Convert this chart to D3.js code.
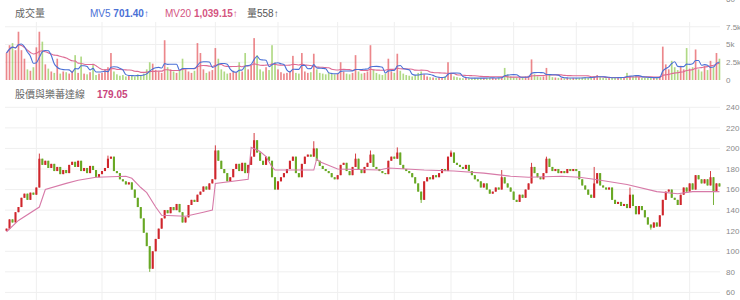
<!DOCTYPE html>
<html>
<head>
<meta charset="utf-8">
<script src="https://cdn.jsdelivr.net/npm/d3@7"></script>
<style>
  body { margin: 0; background: #fff; }
  svg { display: block; font-family: "Liberation Sans", "Noto Sans CJK TC", sans-serif; }
</style>
</head>
<body>
<svg id="chart" width="740" height="300"></svg>
<script>
// daily closes (open = previous close)
const firstOpen = 120;
const closes = [
  122,131,128,138,143,152,156,150,157,155,
  162,190,184,188,181,185,178,182,175,179,
  176,184,187,182,188,178,181,176,183,179,
  172,175,178,181,190,192,178,176,170,168,
  165,167,160,152,143,132,118,105,83,100,
  112,122,132,140,137,143,140,146,138,128,
  133,145,150,148,155,158,163,160,166,170,
  198,188,180,176,168,172,180,185,178,186,
  176,184,192,208,196,188,184,192,188,172,
  160,168,172,176,180,188,192,176,172,185,
  192,194,192,200,188,183,180,178,176,172,
  170,174,184,186,178,174,182,190,180,176,
  182,186,194,182,180,178,176,175,188,192,
  190,196,184,180,178,176,172,166,158,150,
  168,172,170,174,172,176,180,178,192,196,
  186,184,182,180,184,178,174,170,168,162,
  166,160,156,158,162,160,172,166,162,158,
  150,148,155,152,160,166,182,176,172,170,
  176,190,182,178,180,176,178,176,180,178,
  180,178,170,164,160,155,152,166,176,164,
  162,160,162,150,146,148,144,146,142,155,
  144,136,144,140,133,126,123,128,124,135,
  150,158,160,152,150,145,155,162,158,166,
  160,174,170,166,170,164,172,158,166,163
];

// long wicks that stick out of the bodies: [index, price]
const wickHighs = [[11,195],[34,193],[70,203],[83,215],[103,207],[117,195],[122,198],
  [131,201],[149,198],[166,179],[176,186],[181,192],[197,182],[209,162],[236,178]];
const wickLows = [[48,80],[139,147],[216,121],[237,145]];

// daily volume
const volumes = [
  3800,4900,5200,4200,6800,4200,3000,1500,1300,1800,
  4600,6800,5400,2200,1600,1200,1000,3000,900,1200,
  1100,900,1300,3500,1000,3300,900,800,1100,2100,
  700,900,1000,1500,1800,3800,1200,800,600,700,
  500,600,700,500,800,600,900,1500,2500,2300,
  1400,1200,1000,5600,1800,1500,1200,1000,1400,3000,
  1500,1200,1000,1300,5200,3800,1500,1000,1200,1400,
  4500,3000,1500,1200,900,1000,1300,1100,2500,1200,
  3800,1500,2000,5900,3500,1500,1200,1800,1400,4900,
  2500,1500,1100,900,1000,1200,3400,1000,900,3800,
  1200,1000,1100,3700,1500,1000,900,800,1000,900,
  800,900,2500,1200,900,800,1000,3500,1200,900,
  1000,1200,4900,1500,1000,800,700,900,3000,1200,
  1000,3700,1300,900,700,600,500,700,1000,1200,
  800,500,400,350,300,400,350,500,2500,1000,
  500,400,300,250,300,250,200,300,250,300,
  250,300,350,300,250,300,400,1700,800,500,
  400,350,300,400,500,600,2900,800,500,400,
  500,1700,700,400,350,300,300,250,300,250,
  300,250,300,350,400,300,400,500,700,400,
  300,250,300,350,400,350,300,400,1000,600,
  500,600,400,300,350,300,400,350,300,500,
  4700,2200,1500,2700,1800,1400,2000,1500,4500,1600,
  1800,4300,1500,1200,2000,1400,2700,1800,3800,3000
];

// pink trend line: [index, price]
const trendLine = [[0,119],[4,130],[11,143],[13,160],[20,166],[24,169],[30,172],[40,173],
  [42,171],[45,162],[47,157],[50,143],[52,135],[60,134],[66,138],[69,140],[70,166],
  [81,170],[82,201],[85,197],[87,192],[89,182],[90,179],[103,179],[104,190],[105,187],
  [111,180],[125,179],[128,181],[134,180],[140,179],[150,178],[160,176],[169,173],
  [175,172],[186,173],[192,172],[197,170],[208,165],[218,158],[225,156],[230,158],[239,158]];

// month boundaries (candle index) for vertical grid
const monthStarts = [10, 32, 50, 70, 91, 111, 130, 149, 170, 191, 210, 229];

const priceTicks = [60, 80, 100, 120, 140, 160, 180, 200, 220, 240];
const volumeTicks = [0, 2500, 5000, 7500];
const volumeTickLabels = ['0', '2.5k', '5k', '7.5k'];

const UP = '#cf262c', DOWN = '#68a824';
const GRID = '#efefef';

const svg = d3.select('#chart');
const N = closes.length;

const candles = closes.map((c, i) => {
  const o = i ? closes[i - 1] : firstOpen;
  return { i, o, c, h: Math.max(o, c), l: Math.min(o, c), v: volumes[i] };
});
wickHighs.forEach(([i, p]) => { candles[i].h = Math.max(candles[i].h, p); });
wickLows.forEach(([i, p]) => { candles[i].l = Math.min(candles[i].l, p); });

const x = d3.scaleBand().domain(d3.range(N)).range([5.5, 720.5]).paddingInner(0.3);
const bw = x.bandwidth();
const cx = i => x(i) + bw / 2;

const yPrice = d3.scaleLinear().domain([60, 240]).range([292.4, 107.3]);
const yVol = d3.scaleLinear().domain([0, 10000]).range([80, 9]);

// ---- grid ----
const grid = svg.append('g');
grid.selectAll('line.ph').data(priceTicks).enter().append('line')
  .attr('x1', 5).attr('x2', 720)
  .attr('y1', d => yPrice(d)).attr('y2', d => yPrice(d))
  .attr('stroke', GRID);
grid.selectAll('line.vh').data(volumeTicks.slice(1)).enter().append('line')
  .attr('x1', 5).attr('x2', 720)
  .attr('y1', d => yVol(d)).attr('y2', d => yVol(d))
  .attr('stroke', GRID);
grid.selectAll('line.pv').data(monthStarts).enter().append('line')
  .attr('x1', d => cx(d)).attr('x2', d => cx(d))
  .attr('y1', yPrice(240)).attr('y2', 300)
  .attr('stroke', GRID);
grid.selectAll('line.vv').data(monthStarts).enter().append('line')
  .attr('x1', d => cx(d)).attr('x2', d => cx(d))
  .attr('y1', 22).attr('y2', yVol(0))
  .attr('stroke', GRID);

// ---- axis labels on the right ----
const axisText = svg.append('g')
  .attr('font-size', 8).attr('fill', '#8a8a8a');
axisText.selectAll('text.p').data(priceTicks).enter().append('text')
  .attr('x', 726).attr('y', d => yPrice(d)).attr('dy', '0.35em')
  .text(d => d);
axisText.selectAll('text.v').data(volumeTicks).enter().append('text')
  .attr('x', 726).attr('y', d => yVol(d)).attr('dy', '0.35em')
  .text((d, k) => volumeTickLabels[k]);
axisText.append('text').attr('x', 726).attr('y', 0).attr('dy', '0.3em').text('60');

// ---- volume bars ----
const vw = bw * 0.8;
svg.append('g').selectAll('rect').data(candles).enter().append('rect')
  .attr('x', d => cx(d.i) - vw / 2)
  .attr('width', vw)
  .attr('y', d => yVol(d.v))
  .attr('height', d => yVol(0) - yVol(d.v))
  .attr('fill', d => d.c >= d.o ? '#e2474d' : '#86c443')
  .attr('opacity', 0.65);

// moving averages of volume
const movingAvg = (n) => volumes.map((v, i) => d3.mean(volumes.slice(Math.max(0, i - n + 1), i + 1)));
const mv5 = movingAvg(5);
const mv20 = movingAvg(20);
const volLine = d3.line().x((d, i) => cx(i)).y(d => yVol(d)).curve(d3.curveMonotoneX);
svg.append('path').datum(mv20).attr('d', volLine)
  .attr('fill', 'none').attr('stroke', '#de6a93').attr('stroke-width', 1.1);
svg.append('path').datum(mv5).attr('d', volLine)
  .attr('fill', 'none').attr('stroke', '#4a70d6').attr('stroke-width', 1.1);

// ---- candles ----
const cg = svg.append('g');
cg.selectAll('line').data(candles).enter().append('line')
  .attr('x1', d => cx(d.i)).attr('x2', d => cx(d.i))
  .attr('y1', d => yPrice(d.h)).attr('y2', d => yPrice(d.l))
  .attr('stroke', d => d.c >= d.o ? UP : DOWN)
  .attr('stroke-width', 0.9);
cg.selectAll('rect').data(candles).enter().append('rect')
  .attr('x', d => x(d.i))
  .attr('width', bw)
  .attr('y', d => yPrice(Math.max(d.o, d.c)))
  .attr('height', d => Math.max(1, Math.abs(yPrice(d.o) - yPrice(d.c))))
  .attr('fill', d => d.c >= d.o ? UP : DOWN);

// ---- trend line ----
svg.append('path').datum(trendLine)
  .attr('d', d3.line().x(d => cx(d[0])).y(d => yPrice(d[1])))
  .attr('fill', 'none').attr('stroke', '#d77aa8').attr('stroke-width', 1.1);

// ---- headers ----
const head = svg.append('g').attr('font-size', 10);
head.append('text').attr('x', 15).attr('y', 17).attr('fill', '#666').text('成交量');
const mv5t = head.append('text').attr('x', 90).attr('y', 17).attr('fill', '#4a70d6');
mv5t.append('tspan').text('MV5 ');
mv5t.append('tspan').attr('font-weight', 'bold').text('701.40');
mv5t.append('tspan').text('↑');
const mv20t = head.append('text').attr('x', 165).attr('y', 17).attr('fill', '#d4557f');
mv20t.append('tspan').text('MV20 ');
mv20t.append('tspan').attr('font-weight', 'bold').text('1,039.15');
mv20t.append('tspan').text('↑');
head.append('text').attr('x', 247).attr('y', 17).attr('fill', '#555').text('量558↑');

head.append('text').attr('x', 15).attr('y', 98).attr('fill', '#666').text('股價與樂蕃達線');
head.append('text').attr('x', 97).attr('y', 98).attr('fill', '#c9457c')
  .attr('font-weight', 'bold').text('179.05');
</script>
</body>
</html>
